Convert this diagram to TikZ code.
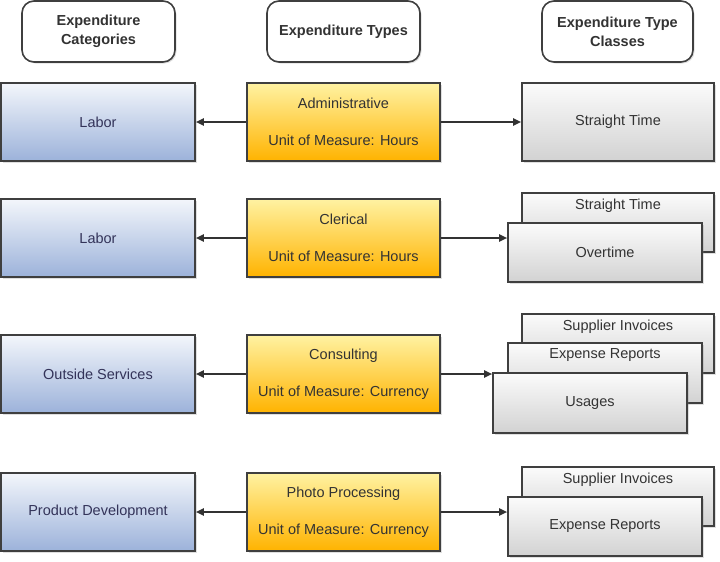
\documentclass[tikz,border=0pt]{standalone}
\usepackage{fontspec}
\setmainfont{Liberation Sans}
\usepackage{xcolor}
\usetikzlibrary{
    arrows.meta,
    shadows,
    calc,
    positioning
}
\definecolor{boxline}{HTML}{3F3F3F}
\definecolor{catTop}{HTML}{F3F6FB}
\definecolor{catBot}{HTML}{9CB2DA}
\definecolor{typeTop}{HTML}{FFF2A2}
\definecolor{typeBot}{HTML}{FFB300}
\definecolor{clsTop}{HTML}{FBFBFB}
\definecolor{clsBot}{HTML}{D2D2D2}
\definecolor{txt}{HTML}{333333}

\begin{document}
\begin{tikzpicture}[x=1pt, y=-1pt,
    font=\fontsize{14.5}{19}\selectfont, text=txt,
    base/.style={draw=boxline, line width=1.6pt, rectangle, inner sep=4pt,
        drop shadow={shadow xshift=1.5pt, shadow yshift=-1.5pt, opacity=.25}},
    header/.style={base, fill=white, rounded corners=12pt, align=center,
        minimum width=153pt, minimum height=61pt, font=\fontsize{14.5}{19}\selectfont\bfseries},
    category/.style={base, top color=catTop, bottom color=catBot, text=black!75!blue!60!gray,
        minimum width=194pt, minimum height=78pt},
    exptype/.style={base, top color=typeTop, bottom color=typeBot, align=center,
        minimum width=193pt, minimum height=78pt},
    typeclass/.style={base, top color=clsTop, bottom color=clsBot,
        minimum width=194pt, minimum height=59pt},
    backclass/.style={typeclass, minimum width=192pt},
    toplabel/.style={anchor=north, yshift=-3pt},
    link/.style={draw=boxline!80!black, line width=1.8pt, -{Triangle[length=8pt, width=7pt]}}
]
    \useasboundingbox (0,0) rectangle (720,562);

    % column headers
    \node[header] (hcat) at (98.5, 31.5) {Expenditure\\Categories};
    \node[header] (htype) at (343.5, 31.5) {Expenditure Types};
    \node[header, minimum width=151pt] (hcls) at (617.5, 31.5) {Expenditure Type\\Classes};

    % row 1
    \node[category] (cat1) at (98, 122) {Labor};
    \node[exptype] (type1) at (343.5, 122) {Administrative\\[18pt]Unit of Measure: Hours};
    \node[typeclass, minimum width=192pt, minimum height=78pt] (cls1) at (618, 122) {Straight Time};
    \draw[link] (type1) -- (cat1);
    \draw[link] (type1) -- (cls1);

    % row 2
    \node[category] (cat2) at (98, 238) {Labor};
    \node[exptype] (type2) at (343.5, 238) {Clerical\\[18pt]Unit of Measure: Hours};
    \node[backclass, label={[toplabel]north:Straight Time}] (cls2a) at (618, 222.5) {};
    \node[typeclass] (cls2b) at (605, 252.5) {Overtime};
    \draw[link] (type2) -- (cat2);
    \draw[link] (type2.east) -- (type2.east -| cls2b.west);

    % row 3
    \node[category] (cat3) at (98, 374) {Outside Services};
    \node[exptype] (type3) at (343.5, 374) {Consulting\\[18pt]Unit of Measure: Currency};
    \node[backclass, label={[toplabel]north:Supplier Invoices}] (cls3a) at (618, 343.5) {};
    \node[typeclass, minimum height=60pt, label={[toplabel]north:Expense Reports}] (cls3b) at (605, 373) {};
    \node[typeclass, minimum height=60pt] (cls3c) at (590, 403) {Usages};
    \draw[link] (type3) -- (cat3);
    \draw[link] (type3.east) -- (type3.east -| cls3c.west);

    % row 4
    \node[category] (cat4) at (98, 512) {Product Development};
    \node[exptype] (type4) at (343.5, 512) {Photo Processing\\[18pt]Unit of Measure: Currency};
    \node[backclass, label={[toplabel]north:Supplier Invoices}] (cls4a) at (618, 496.5) {};
    \node[typeclass] (cls4b) at (605, 526.5) {Expense Reports};
    \draw[link] (type4) -- (cat4);
    \draw[link] (type4.east) -- (type4.east -| cls4b.west);
\end{tikzpicture}
\end{document}
